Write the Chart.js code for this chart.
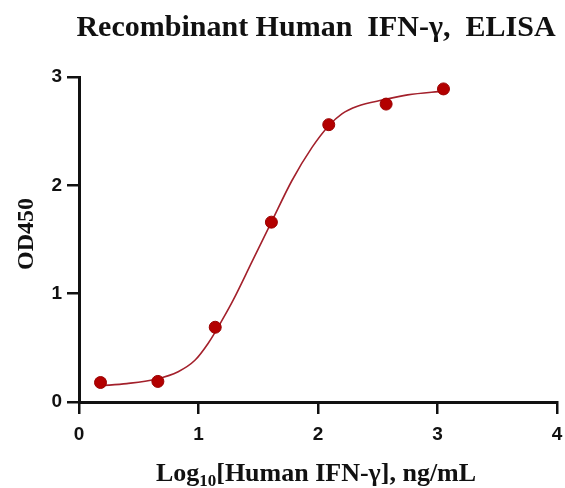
<!DOCTYPE html>
<html lang="en">
<head>
    <meta charset="UTF-8">
    <title>Recombinant Human IFN-γ ELISA</title>
    <script src="https://cdn.jsdelivr.net/npm/chart.js"></script>
    <style>
        html, body {
            margin: 0;
            padding: 0;
            background: #fff;
        }
        .chart-container {
            width: 565px;
            height: 488px;
        }
    </style>
</head>
<body>
    <div class="chart-container">
        <canvas id="elisaChart"></canvas>
    </div>
    <script>
        // measured points: log10 concentration vs OD450
        const doseLog = [0.18, 0.66, 1.14, 1.61, 2.09, 2.57, 3.05];
        const od450 = [0.18, 0.19, 0.69, 1.66, 2.56, 2.75, 2.89];

        // fitted curve
        const fitX = [0.18, 0.40, 0.64, 0.83, 0.97, 1.08, 1.20, 1.29, 1.45, 1.61, 1.78, 1.95, 2.09, 2.20, 2.33, 2.55, 2.75, 3.05];
        const fitY = [0.15, 0.17, 0.21, 0.28, 0.385, 0.54, 0.76, 0.94, 1.30, 1.66, 2.04, 2.35, 2.55, 2.66, 2.73, 2.79, 2.835, 2.87];

        const xTicks = [0, 1, 2, 3, 4];
        const yTicks = [0, 1, 2, 3];

        const chartTitle = 'Recombinant Human  IFN-\u03b3,  ELISA';
        const yTitle = 'OD450';
        const xTitleParts = ['Log', '10', '[Human IFN-\u03b3], ng/mL'];

        const serif = '"Liberation Serif", "Times New Roman", serif';
        const sans = '"Liberation Sans", Arial, sans-serif';

        // titles drawn by hand so the x label can have a subscript
        const titlesPlugin = {
            id: 'titles',
            afterDraw(chart) {
                const ctx = chart.ctx;
                ctx.save();
                ctx.fillStyle = '#111';
                ctx.textBaseline = 'alphabetic';

                ctx.font = 'bold 30px ' + serif;
                ctx.textAlign = 'center';
                ctx.fillText(chartTitle, 316, 36);

                // x axis title with subscript
                const mainFont = 'bold 26px ' + serif;
                const subFont = 'bold 17px ' + serif;
                ctx.textAlign = 'left';
                ctx.font = mainFont;
                const w0 = ctx.measureText(xTitleParts[0]).width;
                const w2 = ctx.measureText(xTitleParts[2]).width;
                ctx.font = subFont;
                const w1 = ctx.measureText(xTitleParts[1]).width;
                let x = 316 - (w0 + w1 + w2) / 2;
                const base = 481;
                ctx.font = mainFont;
                ctx.fillText(xTitleParts[0], x, base);
                x += w0;
                ctx.font = subFont;
                ctx.fillText(xTitleParts[1], x, base + 5);
                x += w1;
                ctx.font = mainFont;
                ctx.fillText(xTitleParts[2], x, base);

                // y axis title
                ctx.translate(33, 234);
                ctx.rotate(-Math.PI / 2);
                ctx.textAlign = 'center';
                ctx.font = 'bold 24px ' + serif;
                ctx.fillText(yTitle, 0, 0);
                ctx.restore();
            }
        };

        const axisStyle = {
            grid: {
                display: true,
                drawOnChartArea: false,
                drawTicks: true,
                tickLength: 12,
                color: '#111',
                lineWidth: 2.5
            },
            border: { display: true, color: '#111', width: 3 }
        };

        const ctx = document.getElementById('elisaChart').getContext('2d');
        new Chart(ctx, {
            type: 'scatter',
            data: {
                datasets: [
                    {
                        label: 'Fit',
                        data: fitX.map((v, i) => ({ x: v, y: fitY[i] })),
                        showLine: true,
                        borderColor: '#a3202b',
                        borderWidth: 1.6,
                        pointRadius: 0,
                        cubicInterpolationMode: 'monotone',
                        order: 2
                    },
                    {
                        label: 'OD450',
                        data: doseLog.map((v, i) => ({ x: v, y: od450[i] })),
                        showLine: false,
                        backgroundColor: '#b30000',
                        borderColor: '#9a0000',
                        borderWidth: 1,
                        pointRadius: 6,
                        order: 1
                    }
                ]
            },
            options: {
                responsive: true,
                maintainAspectRatio: false,
                animation: false,
                layout: {
                    padding: { top: 77, right: 8, bottom: 0, left: 0 }
                },
                plugins: {
                    legend: { display: false },
                    tooltip: { enabled: false },
                    title: { display: false }
                },
                scales: {
                    x: {
                        type: 'linear',
                        min: 0,
                        max: 4,
                        afterFit(scale) {
                            scale.height = 86;
                            scale.paddingLeft = 0;
                            scale.paddingRight = 0;
                        },
                        afterBuildTicks(scale) { scale.ticks = xTicks.map(v => ({ value: v })); },
                        ...axisStyle,
                        ticks: {
                            padding: 9,
                            color: '#111',
                            font: { family: sans, size: 19, weight: 'bold' }
                        }
                    },
                    y: {
                        type: 'linear',
                        min: 0,
                        max: 3,
                        afterFit(scale) { scale.width = 79; },
                        afterBuildTicks(scale) { scale.ticks = yTicks.map(v => ({ value: v })); },
                        ...axisStyle,
                        ticks: {
                            padding: 5,
                            color: '#111',
                            font: { family: sans, size: 19, weight: 'bold' }
                        }
                    }
                }
            },
            plugins: [titlesPlugin]
        });
    </script>
</body>
</html>
